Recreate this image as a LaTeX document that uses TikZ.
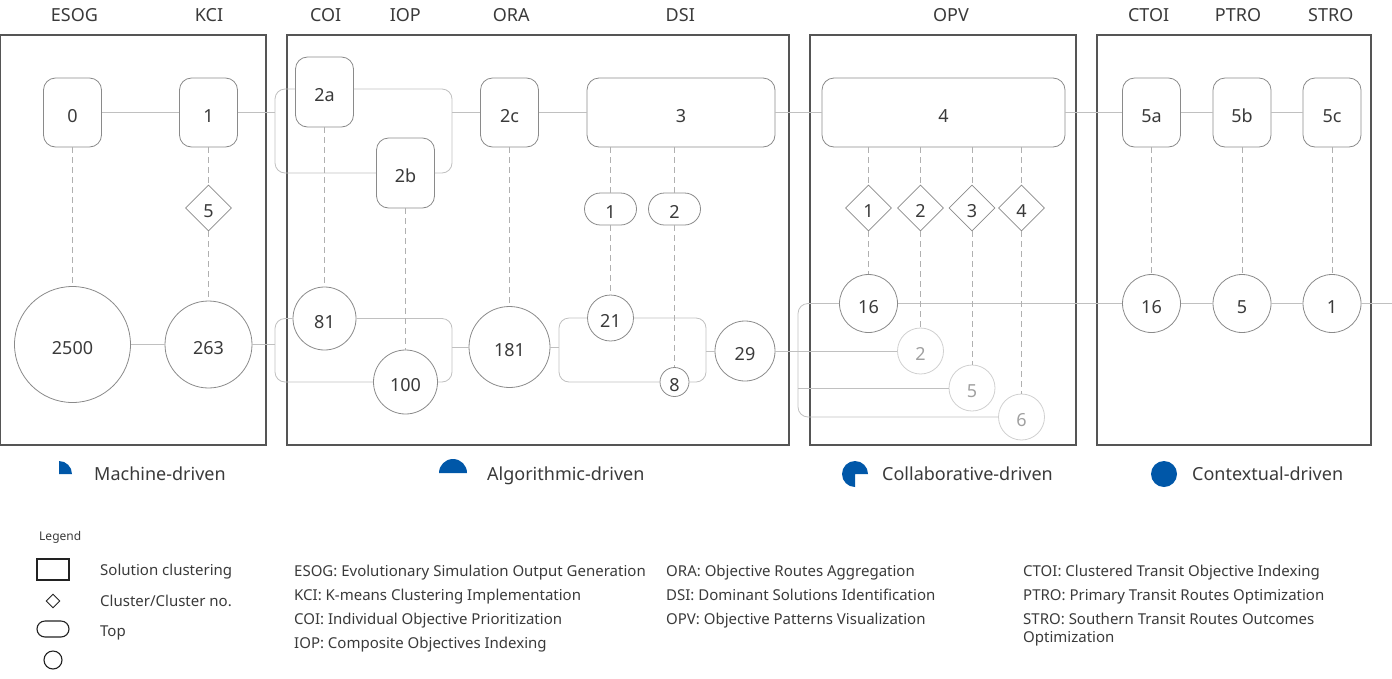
\documentclass[tikz,border=0pt]{standalone}
\usepackage{fontspec}
\setmainfont{Noto Sans}
\usetikzlibrary{shapes.geometric}
\definecolor{txt}{HTML}{3A3A3A}
\definecolor{boxc}{HTML}{555555}
\definecolor{nodec}{HTML}{8A8A8A}
\definecolor{linec}{HTML}{C0C0C0}
\definecolor{dashc}{HTML}{B0B0B0}
\definecolor{fadec}{HTML}{D0D0D0}
\definecolor{fadetxt}{HTML}{A0A0A0}
\definecolor{catblue}{HTML}{0057A8}
\definecolor{icon}{HTML}{222222}
\begin{document}
\begin{tikzpicture}[x=1pt,y=-1pt,
  every node/.style={text=txt},
  nd/.style={draw=nodec,line width=0.8pt,inner sep=0pt,font=\fontsize{18}{20}\selectfont,text height=19pt,text depth=0pt},
  rb/.style={nd,rectangle,rounded corners=12pt,minimum height=69pt,minimum width=#1},
  rb/.default=58pt,
  cc/.style={nd,circle,minimum size=#1},
  fc/.style={cc=#1,draw=fadec,text=fadetxt},
  dm/.style={nd,diamond,aspect=1,minimum size=46pt},
  pl/.style={nd,rectangle,rounded corners=16pt,minimum width=52pt,minimum height=32pt},
  conn/.style={draw=linec,line width=0.8pt},
  dsh/.style={draw=dashc,line width=0.8pt,dash pattern=on 6pt off 4pt},
  grp/.style={draw=boxc,line width=1.2pt},
  hdr/.style={font=\fontsize{18}{20}\selectfont},
  cat/.style={font=\fontsize{18}{20}\selectfont,anchor=base west,inner sep=0pt},
  lg/.style={font=\fontsize{15}{18}\selectfont,anchor=base west,inner sep=0pt},
  ic/.style={draw=icon,line width=1.1pt,inner sep=0pt},
]
\useasboundingbox (0,0) rectangle (1392,678);

% group boxes
\draw[grp] (0.6,35) rectangle (266,445);
\draw[grp] (287,35) rectangle (789,445);
\draw[grp] (810,35) rectangle (1076,445);
\draw[grp] (1097,35) rectangle (1371,445);

% headers
\node[hdr] (hESOG) at (74.5,15) {ESOG};
\node[hdr] (hKCI) at (209,15) {KCI};
\node[hdr] (hCOI) at (325.7,15) {COI};
\node[hdr] (hIOP) at (405.3,15) {IOP};
\node[hdr] (hORA) at (511.3,15) {ORA};
\node[hdr] (hDSI) at (680.3,15) {DSI};
\node[hdr] (hOPV) at (951,15) {OPV};
\node[hdr] (hCTOI) at (1148.6,15) {CTOI};
\node[hdr] (hPTRO) at (1238,15) {PTRO};
\node[hdr] (hSTRO) at (1330.8,15) {STRO};

% top row
\node[rb] (n0) at (72.5,112.5) {0};
\node[rb] (n1) at (208.5,112.5) {1};
\node[rb,minimum height=70pt] (n2a) at (324.5,92) {2a};
\node[rb,minimum height=70pt] (n2b) at (405.5,173) {2b};
\node[rb] (n2c) at (509.5,112.5) {2c};
\node[rb=188pt] (n3) at (681,112.5) {3};
\node[rb=243pt] (n4) at (943.5,112.5) {4};
\node[rb] (n5a) at (1151.5,112.5) {5a};
\node[rb] (n5b) at (1242,112.5) {5b};
\node[rb] (n5c) at (1332,112.5) {5c};

% middle
\node[dm] (d5) at (208.5,208) {5};
\node[pl] (p1) at (610.5,209) {1};
\node[pl] (p2) at (674.5,209) {2};
\node[dm] (o1) at (868.5,208) {1};
\node[dm] (o2) at (920.5,208) {2};
\node[dm] (o3) at (972,208) {3};
\node[dm] (o4) at (1021.5,208) {4};

% bottom row
\node[cc=116pt] (c2500) at (72.5,344.5) {2500};
\node[cc=87pt] (c263) at (208.5,344.5) {263};
\node[cc=63pt] (c81) at (324.5,318.5) {81};
\node[cc=64pt] (c100) at (405.5,382) {100};
\node[cc=81pt] (c181) at (509.5,347) {181};
\node[cc=46pt] (c21) at (610.5,318) {21};
\node[cc=29pt] (c8) at (674.5,382) {8};
\node[cc=60pt] (c29) at (745,351) {29};
\node[cc=58pt] (c16o) at (868.5,303.5) {16};
\node[fc=46pt] (f2) at (920.5,351) {2};
\node[fc=46pt] (f5) at (972,388) {5};
\node[fc=46pt] (f6) at (1021.5,417) {6};
\node[cc=58pt] (c16c) at (1151.5,303.5) {16};
\node[cc=58pt] (c5p) at (1242,303.5) {5};
\node[cc=58pt] (c1s) at (1332,303.5) {1};

% junction coordinates
\coordinate (bL1) at (275,112.5);
\coordinate (bR1) at (452,112.5);
\coordinate (bL2) at (275,344.5);
\coordinate (bR2) at (452,347);
\coordinate (bL3) at (559,347);
\coordinate (bR3) at (706,351);
\coordinate (bO) at (798,388);
\coordinate (eR) at (1392,303.5);

% solid connectors, top
\draw[conn] (n0) -- (n1);
\draw[conn] (n1) -- (bL1);
\draw[conn,rounded corners=10pt] ([yshift=3pt]n2a.west) -| (bL1) |- (n2b.west);
\draw[conn,rounded corners=10pt] ([yshift=3pt]n2a.east) -| (bR1) |- (n2b.east);
\draw[conn] (bR1) -- (n2c);
\draw[conn] (n2c) -- (n3);
\draw[conn] (n3) -- (n4);
\draw[conn] (n4) -- (n5a);
\draw[conn] (n5a) -- (n5b);
\draw[conn] (n5b) -- (n5c);

% solid connectors, bottom
\draw[conn] (c2500) -- (c263);
\draw[conn] (c263) -- (bL2);
\draw[conn,rounded corners=10pt] (c81.west) -| (bL2) |- (c100.west);
\draw[conn,rounded corners=10pt] (c81.east) -| (bR2) |- (c100.east);
\draw[conn] (bR2) -- (c181);
\draw[conn] (c181) -- (bL3);
\draw[conn,rounded corners=10pt] (c21.west) -| (bL3) |- (c8.west);
\draw[conn,rounded corners=10pt] (c21.east) -| (bR3) |- (c8.east);
\draw[conn] (bR3) -- (c29);
\draw[conn] (c29) -- (f2);
\draw[conn,rounded corners=10pt] (c16o.west) -| (bO) |- (f6.west);
\draw[conn] (bO) -- (f5);
\draw[conn] (c16o) -- (c16c);
\draw[conn] (c16c) -- (c5p);
\draw[conn] (c5p) -- (c1s);
\draw[conn] (c1s) -- (eR);

% dashed connectors
\draw[dsh] (n0) -- (c2500);
\draw[dsh] (n1) -- (d5) -- (c263);
\draw[dsh] (n2a) -- (c81);
\draw[dsh] (n2b) -- (c100);
\draw[dsh] (n2c) -- (c181);
\draw[dsh] (p1 |- n3.south) -- (p1) -- (c21);
\draw[dsh] (p2 |- n3.south) -- (p2) -- (c8);
\draw[dsh] (o1 |- n4.south) -- (o1) -- (c16o);
\draw[dsh] (o2 |- n4.south) -- (o2) -- (f2);
\draw[dsh] (o3 |- n4.south) -- (o3) -- (f5);
\draw[dsh] (o4 |- n4.south) -- (o4) -- (f6);
\draw[dsh] (n5a) -- (c16c);
\draw[dsh] (n5b) -- (c5p);
\draw[dsh] (n5c) -- (c1s);

% categories
\fill[catblue] (59,474) -- (72,474) arc[start angle=0,end angle=-90,radius=13] -- cycle;
\fill[catblue] (467,473) arc[start angle=0,end angle=-180,radius=14] -- cycle;
\fill[catblue] (855,474) -- (868,474) arc[start angle=0,end angle=-270,radius=13] -- cycle;
\fill[catblue] (1164,474) circle[radius=13];
\node[cat] (tM) at (94,480) {Machine-driven};
\node[cat] (tA) at (487,480) {Algorithmic-driven};
\node[cat] (tC) at (882,480) {Collaborative-driven};
\node[cat] (tX) at (1192,480) {Contextual-driven};

% legend
\node[font=\fontsize{12}{14}\selectfont,anchor=base west,inner sep=0pt] (lgT) at (39,540.3) {Legend};
\node[ic,rectangle,minimum width=32pt,minimum height=21pt] (iR) at (53,569.5) {};
\node[ic,line width=0.9pt,diamond,aspect=1,minimum size=14pt] (iD) at (53,601) {};
\node[ic,rectangle,rounded corners=8pt,minimum width=32pt,minimum height=16pt] (iP) at (53,629) {};
\node[ic,circle,minimum size=18pt] (iC) at (53,660) {};
\node[lg] (lR) at (100,575.4) {Solution clustering};
\node[lg] (lD) at (100,606.4) {Cluster/Cluster no.};
\node[lg] (lP) at (100,636.4) {Top};

% abbreviations
\node[lg] (aESOG) at (294,576.4) {ESOG: Evolutionary Simulation Output Generation};
\node[lg] (aKCI) at (294,600.4) {KCI: K-means Clustering Implementation};
\node[lg] (aCOI) at (294,624.4) {COI: Individual Objective Prioritization};
\node[lg] (aIOP) at (294,648.4) {IOP: Composite Objectives Indexing};
\node[lg] (aORA) at (666,576.4) {ORA: Objective Routes Aggregation};
\node[lg] (aDSI) at (666,600.4) {DSI: Dominant Solutions Identification};
\node[lg] (aOPV) at (666,624.4) {OPV: Objective Patterns Visualization};
\node[lg] (aCTOI) at (1023,576.4) {CTOI: Clustered Transit Objective Indexing};
\node[lg] (aPTRO) at (1023,600.4) {PTRO: Primary Transit Routes Optimization};
\node[lg,align=left] (aSTRO) at (1023,642.4) {STRO: Southern Transit Routes Outcomes\\Optimization};
\end{tikzpicture}
\end{document}
